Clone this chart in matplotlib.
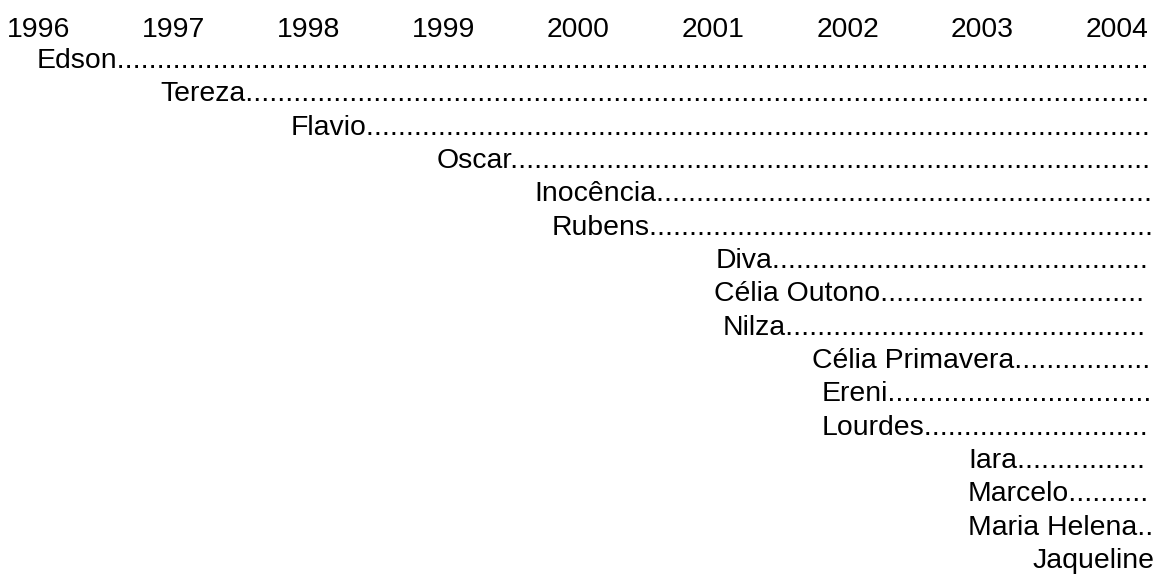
import math
import matplotlib
matplotlib.use("Agg")
import matplotlib.pyplot as plt

plt.rcParams['font.family'] = ['Liberation Sans', 'DejaVu Sans']

# year labels along the top
years = [1996, 1997, 1998, 1999, 2000, 2001, 2002, 2003, 2004]

# names, where each one starts (in years) and where its dotted line stops
names = ["Edson", "Tereza", "Flavio", "Oscar", "Inocência", "Rubens", "Diva",
         "Célia Outono", "Nilza", "Célia Primavera", "Ereni", "Lourdes",
         "Iara", "Marcelo", "Maria Helena", "Jaqueline"]
starts = [1995.987, 1996.900, 1997.872, 1998.955, 1999.675, 1999.808, 2001.018,
          2001.010, 2001.077, 2001.737, 2001.811, 2001.811,
          2002.894, 2002.894, 2002.894, 2003.369]
ends = [2004.266, 2004.266, 2004.288, 2004.288, 2004.281, 2004.281, 2004.266,
        2004.244, 2004.244, 2004.288, 2004.288, 2004.244,
        2004.244, 2004.281, 2004.281, 2004.266]

fig = plt.figure(figsize=(11.6, 5.76), dpi=100)
ax = fig.add_axes([0, 0, 1, 1])
ax.set_xlim(1995.713, 2004.318)
ax.set_ylim(15.24, -2.04)
ax.axis("off")

fs = 20.4
for yr in years:
    ax.text(yr, -0.94, str(yr), ha="center", va="baseline", fontsize=fs)

fig.canvas.draw()
r = fig.canvas.get_renderer()

# width of a single dot in pixels
probe = ax.text(0, 0, ".", fontsize=fs)
dot_w = probe.get_window_extent(r).width
probe.remove()

for i, (nm, x0, x1) in enumerate(zip(names, starts, ends)):
    t = ax.text(x0, i, nm, ha="left", va="baseline", fontsize=fs)
    bb = t.get_window_extent(r)
    end_px = ax.transData.transform((x1, 0))[0]
    n = max(0, math.floor((end_px - bb.x1) / dot_w))
    t.set_text(nm + "." * n)

fig.savefig("out.png", dpi=100)
